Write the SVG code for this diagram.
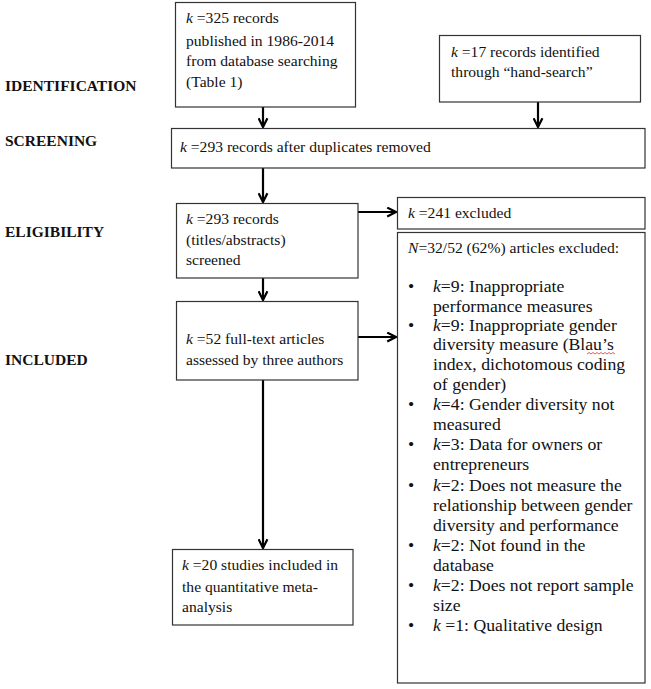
<svg xmlns="http://www.w3.org/2000/svg" width="651" height="689" viewBox="0 0 651 689">
<defs>
<style>
.box{fill:#fff;stroke:#333;stroke-width:1.2}
.t{font-family:"Liberation Serif","Times New Roman",serif;font-size:15.6px;fill:#111}
.b{font-family:"Liberation Serif","Times New Roman",serif;font-size:17.7px;fill:#111}
.lab{font-family:"Liberation Serif","Times New Roman",serif;font-size:15.5px;font-weight:bold;fill:#111}
.k{font-style:italic}
.ln{stroke:#000;stroke-width:2.2;fill:none;marker-end:url(#ah)}
</style>
<marker id="ah" viewBox="0 0 10 10" refX="9" refY="5" markerWidth="5" markerHeight="5" orient="auto" markerUnits="strokeWidth">
<path d="M1,1 L9,5 L1,9" fill="none" stroke="#000" stroke-width="2"/>
</marker>
</defs>
<rect width="651" height="689" fill="#fff"/>
<g id="stage-labels">
<text class="lab" x="5" y="91">IDENTIFICATION</text>
<text class="lab" x="5" y="146">SCREENING</text>
<text class="lab" x="5" y="237">ELIGIBILITY</text>
<text class="lab" x="5" y="365">INCLUDED</text>
</g>
<g id="connectors">
<line class="ln" x1="263" y1="107" x2="263" y2="127"/>
<line class="ln" x1="538" y1="102" x2="538" y2="127"/>
<line class="ln" x1="263" y1="168" x2="263" y2="202"/>
<line class="ln" x1="263" y1="278" x2="263" y2="300"/>
<line class="ln" x1="263" y1="380" x2="263" y2="548"/>
<line class="ln" x1="358" y1="212" x2="396" y2="212"/>
<line class="ln" x1="358" y1="337" x2="396" y2="337"/>
</g>
<g id="n-database">
<rect class="box" x="175.5" y="2.5" width="180" height="104.5"/>
<text class="t" x="186" y="23"><tspan class="k">k</tspan> =325 records</text>
<text class="t" x="186" y="46">published in 1986-2014</text>
<text class="t" x="186" y="66">from database searching</text>
<text class="t" x="186" y="87">(Table 1)</text>
</g>
<g id="n-hand">
<rect class="box" x="439.5" y="35.5" width="201" height="66.5"/>
<text class="t" x="451" y="57"><tspan class="k">k</tspan> =17 records identified</text>
<text class="t" x="451" y="77">through “hand-search”</text>
</g>
<g id="n-screening">
<rect class="box" x="171.5" y="128.5" width="473.5" height="39.5"/>
<text class="t" x="180" y="152"><tspan class="k">k</tspan> =293 records after duplicates removed</text>
</g>
<g id="n-eligibility">
<rect class="box" x="176.5" y="203.5" width="181.5" height="74.5"/>
<text class="t" x="186" y="224"><tspan class="k">k</tspan> =293 records</text>
<text class="t" x="186" y="245">(titles/abstracts)</text>
<text class="t" x="186" y="265">screened</text>
</g>
<g id="n-excluded241">
<rect class="box" x="397.5" y="197.5" width="247.5" height="31.5"/>
<text class="t" x="408" y="218"><tspan class="k">k</tspan> =241 excluded</text>
</g>
<g id="n-fulltext">
<rect class="box" x="176.5" y="301.5" width="181.5" height="78.5"/>
<text class="t" x="186" y="344"><tspan class="k">k</tspan> =52 full-text articles</text>
<text class="t" x="186" y="365">assessed by three authors</text>
</g>
<g id="n-excluded32">
<rect class="box" x="397.5" y="232.5" width="247.5" height="450.5"/>
<text class="t" x="408" y="253"><tspan class="k">N</tspan>=32/52 (62%) articles excluded:</text>
<g class="b">
<text x="408" y="292">•</text><text x="433" y="292"><tspan class="k">k</tspan>=9: Inappropriate</text>
<text x="433" y="312">performance measures</text>
<text x="408" y="331">•</text><text x="433" y="331"><tspan class="k">k</tspan>=9: Inappropriate gender</text>
<text x="433" y="350">diversity measure (Blau’s</text>
<text x="433" y="370">index, dichotomous coding</text>
<text x="433" y="390">of gender)</text>
<text x="408" y="410">•</text><text x="433" y="410"><tspan class="k">k</tspan>=4: Gender diversity not</text>
<text x="433" y="430">measured</text>
<text x="408" y="450">•</text><text x="433" y="450"><tspan class="k">k</tspan>=3: Data for owners or</text>
<text x="433" y="470">entrepreneurs</text>
<text x="408" y="491">•</text><text x="433" y="491"><tspan class="k">k</tspan>=2: Does not measure the</text>
<text x="433" y="511">relationship between gender</text>
<text x="433" y="531">diversity and performance</text>
<text x="408" y="551">•</text><text x="433" y="551"><tspan class="k">k</tspan>=2: Not found in the</text>
<text x="433" y="571">database</text>
<text x="408" y="591">•</text><text x="433" y="591"><tspan class="k">k</tspan>=2: Does not report sample</text>
<text x="433" y="611">size</text>
<text x="408" y="631">•</text><text x="433" y="631"><tspan class="k">k</tspan> =1: Qualitative design</text>
</g>
<path d="M587,354 l2,-1.5 l2,1.5 l2,-1.5 l2,1.5 l2,-1.5 l2,1.5 l2,-1.5 l2,1.5 l2,-1.5 l2,1.5 l2,-1.5 l2,1.5 l2,-1.5 l2,1.5" fill="none" stroke="#d33" stroke-width="0.8"/>
</g>
<g id="n-included">
<rect class="box" x="172.5" y="549.5" width="180.5" height="75.5"/>
<text class="t" x="182" y="570"><tspan class="k">k</tspan> =20 studies included in</text>
<text class="t" x="182" y="592">the quantitative meta-</text>
<text class="t" x="182" y="612">analysis</text>
</g>
</svg>
